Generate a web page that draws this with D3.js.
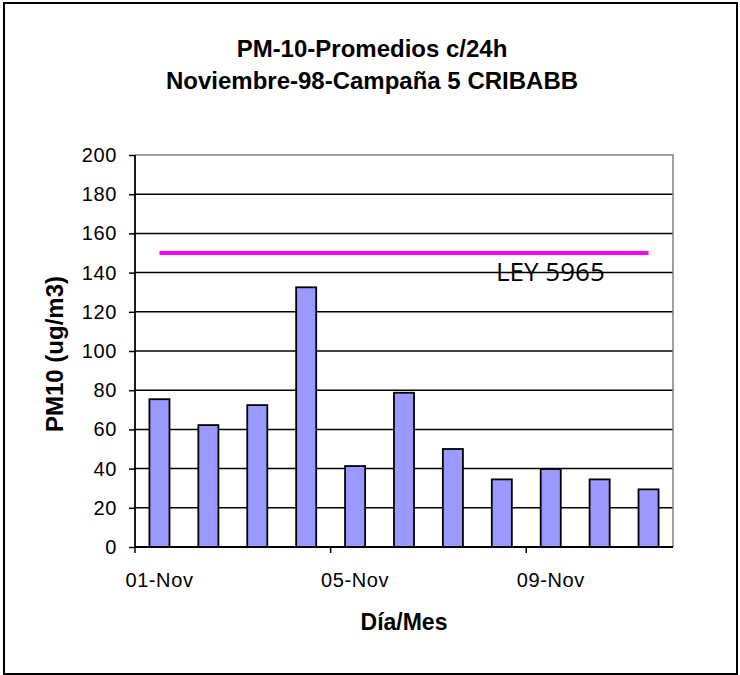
<!DOCTYPE html>
<html>
<head>
<meta charset="utf-8">
<script src="https://cdn.jsdelivr.net/npm/d3@7"></script>
<style>
  html, body { margin: 0; padding: 0; background: #fff; }
  svg { display: block; }
</style>
</head>
<body>
<script>
const categories = ["01-Nov","02-Nov","03-Nov","04-Nov","05-Nov","06-Nov","07-Nov","08-Nov","09-Nov","10-Nov","11-Nov"];
const pm10Values = [75.4, 62.2, 72.4, 132.5, 41.3, 78.7, 50.0, 34.5, 39.8, 34.5, 29.4];
const limitValues = [150, 150, 150, 150, 150, 150, 150, 150, 150, 150, 150];
const yTicks = [0, 20, 40, 60, 80, 100, 120, 140, 160, 180, 200];
const xTickLabels = ["01-Nov", "05-Nov", "09-Nov"];
const titleLines = ["PM-10-Promedios c/24h", "Noviembre-98-Campaña 5 CRIBABB"];
const yTitle = "PM10 (ug/m3)";
const xTitle = "Día/Mes";
const limitLabel = "LEY 5965";

const W = 740, H = 675;
const plot = { left: 135, right: 673, top: 155, bottom: 547 };
const FONT = "'Liberation Sans', Arial, sans-serif";

const svg = d3.select("body").append("svg")
  .attr("width", W).attr("height", H);

svg.append("rect").attr("x", 0).attr("y", 0).attr("width", W).attr("height", H).attr("fill", "#fff");

// outer frame
svg.append("rect")
  .attr("x", 4).attr("y", 3).attr("width", 733).attr("height", 671)
  .attr("fill", "none").attr("stroke", "#000").attr("stroke-width", 2);

const x = d3.scaleBand().domain(categories)
  .range([plot.left, plot.right])
  .paddingInner(0.59).paddingOuter(0.295);
const xIdx = d3.scaleLinear().domain([0, categories.length]).range([plot.left, plot.right]);
const y = d3.scaleLinear().domain([0, 200]).range([plot.bottom, plot.top]);

// gridlines
svg.append("g").selectAll("line")
  .data(yTicks.filter(d => d > 0 && d < 200))
  .join("line")
  .attr("x1", plot.left).attr("x2", plot.right)
  .attr("y1", d => y(d)).attr("y2", d => y(d))
  .attr("stroke", "#000").attr("stroke-width", 1.5);

// plot border (top/right grey)
svg.append("path")
  .attr("d", `M${plot.left},${y(200)}H${plot.right}V${plot.bottom}`)
  .attr("fill", "none").attr("stroke", "#808080").attr("stroke-width", 1.5);

// bars
svg.append("g").selectAll("rect")
  .data(pm10Values)
  .join("rect")
  .attr("x", (d, i) => x(categories[i]))
  .attr("width", x.bandwidth())
  .attr("y", d => y(d))
  .attr("height", d => y(0) - y(d))
  .attr("fill", "#9999FF")
  .attr("stroke", "#000").attr("stroke-width", 1.8);

// y axis
const yAxis = d3.axisLeft(y).tickValues(yTicks).tickSize(6).tickPadding(12).tickFormat(d3.format("d"));
const gy = svg.append("g").attr("transform", `translate(${plot.left},0)`).call(yAxis);
gy.select(".domain").attr("stroke", "#000").attr("stroke-width", 1.8).attr("d", `M-0,${plot.top}V${plot.bottom}`);
gy.selectAll(".tick line").attr("stroke", "#000").attr("stroke-width", 1.5);
gy.selectAll(".tick text").attr("font-family", FONT).attr("font-size", 20).attr("fill", "#000").attr("letter-spacing", 0.6);

// x axis line
svg.append("line")
  .attr("x1", plot.left).attr("x2", plot.right)
  .attr("y1", plot.bottom).attr("y2", plot.bottom)
  .attr("stroke", "#000").attr("stroke-width", 1.8);

// x tick marks at band boundaries (every 4 days)
const tickIdx = xTickLabels.map(l => categories.indexOf(l));
svg.append("g").selectAll("line")
  .data(tickIdx)
  .join("line")
  .attr("x1", d => xIdx(d)).attr("x2", d => xIdx(d))
  .attr("y1", plot.bottom).attr("y2", plot.bottom + 6)
  .attr("stroke", "#000").attr("stroke-width", 1.5);

// x tick labels centered on categories
svg.append("g").selectAll("text")
  .data(xTickLabels)
  .join("text")
  .attr("x", d => x(d) + x.bandwidth() / 2)
  .attr("y", plot.bottom + 40)
  .attr("text-anchor", "middle")
  .attr("font-family", FONT).attr("font-size", 20).attr("letter-spacing", 0.6)
  .attr("fill", "#000")
  .text(d => d);

// limit line
const line = d3.line()
  .x((d, i) => x(categories[i]) + x.bandwidth() / 2)
  .y(d => y(d));
svg.append("path")
  .datum(limitValues)
  .attr("d", line)
  .attr("fill", "none").attr("stroke", "#FF00FF").attr("stroke-width", 4);

svg.append("text")
  .attr("x", 496).attr("y", y(limitValues[0]) + 28)
  .attr("font-family", "'Open Sans', sans-serif").attr("font-size", 26)
  .attr("fill", "#000")
  .text(limitLabel);

// title
svg.append("g").selectAll("text")
  .data(titleLines)
  .join("text")
  .attr("x", 372)
  .attr("y", (d, i) => 57 + i * 31.5)
  .attr("text-anchor", "middle")
  .attr("font-family", FONT).attr("font-weight", "bold").attr("font-size", 24)
  .attr("fill", "#000")
  .text(d => d);

// axis titles
svg.append("text")
  .attr("x", (plot.left + plot.right) / 2).attr("y", 630)
  .attr("text-anchor", "middle")
  .attr("font-family", FONT).attr("font-weight", "bold").attr("font-size", 23)
  .attr("fill", "#000")
  .text(xTitle);

svg.append("text")
  .attr("transform", `translate(63,354) rotate(-90)`)
  .attr("text-anchor", "middle")
  .attr("font-family", FONT).attr("font-weight", "bold").attr("font-size", 24)
  .attr("fill", "#000")
  .text(yTitle);
</script>
</body>
</html>
